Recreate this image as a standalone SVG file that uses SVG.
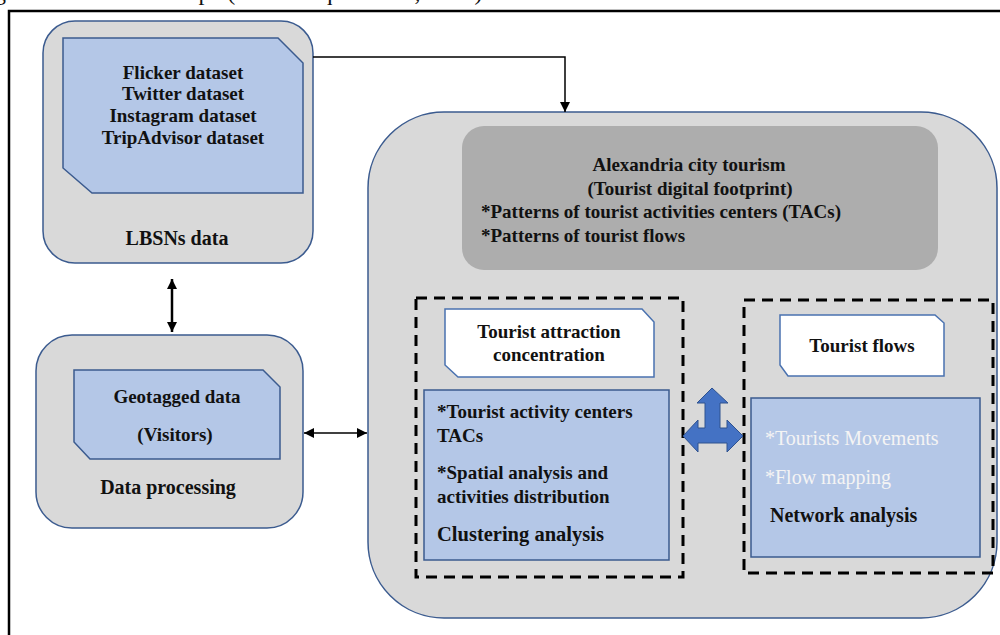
<svg xmlns="http://www.w3.org/2000/svg" width="1000" height="635" viewBox="0 0 1000 635">
  <defs>
    <style>
      .panel { fill: #d9d9d9; stroke: #3b5b8f; stroke-width: 1.5; }
      .blue { fill: #b4c7e7; stroke: #3b5b8f; stroke-width: 1.5; }
      .white { fill: #ffffff; stroke: #4a72b0; stroke-width: 1.5; }
      .dark { fill: #adadad; stroke: none; }
      .dash { fill: none; stroke: #000; stroke-width: 3; stroke-dasharray: 11 7; }
      .t { font-family: "Liberation Serif", "Times New Roman", serif; font-weight: bold; font-size: 19px; fill: #111; }
      .c { text-anchor: middle; }
      .w { font-family: "Liberation Serif", "Times New Roman", serif; font-size: 20px; fill: #f4f4f4; }
      .conn { fill: none; stroke: #000; }
    </style>
    <marker id="ah" viewBox="0 0 10 10" refX="10" refY="5" markerWidth="10" markerHeight="10" markerUnits="userSpaceOnUse" orient="auto-start-reverse">
      <path d="M0,0 L10,5 L0,10 Z" fill="#000"/>
    </marker>
    <marker id="ahs" viewBox="0 0 10 10" refX="10" refY="5" markerWidth="12" markerHeight="10" markerUnits="userSpaceOnUse" orient="auto-start-reverse">
      <path d="M0,0 L10,5 L0,10 Z" fill="#000"/>
    </marker>
  </defs>

  <rect width="1000" height="635" fill="#ffffff"/>
  <text x="-6" y="0" font-family="Liberation Serif, serif" font-size="24" fill="#111">g the tourism landscape (Hadi &amp; Iqbal et al., 2016)</text>
  <rect x="9" y="11" width="1010" height="640" fill="none" stroke="#000" stroke-width="2.5"/>

  <g id="lbsns">
    <rect class="panel" x="43" y="21" width="270" height="242" rx="32"/>
    <path class="blue" d="M63,38 H278 L303,63 V193 H92 L63,168 Z"/>
    <text class="t c" x="183" y="79">Flicker dataset</text>
    <text class="t c" x="183" y="100">Twitter dataset</text>
    <text class="t c" x="183" y="122">Instagram dataset</text>
    <text class="t c" x="183" y="144">TripAdvisor dataset</text>
    <text class="t c" x="177" y="245" style="font-size:20px">LBSNs data</text>
  </g>

  <g id="processing">
    <rect class="panel" x="36" y="335" width="267" height="193" rx="36"/>
    <path class="blue" d="M74,370 H263 L280,387 V459 H90 L74,442 Z"/>
    <text class="t c" x="177" y="403">Geotagged data</text>
    <text class="t c" x="175" y="441">(Visitors)</text>
    <text class="t c" x="168" y="494" style="font-size:20px">Data processing</text>
  </g>

  <g id="main">
    <rect class="panel" x="368" y="112" width="629" height="506" rx="76"/>
  </g>

  <g id="tourism">
    <rect class="dark" x="462" y="126" width="476" height="144" rx="22"/>
    <text class="t c" x="689" y="171">Alexandria  city tourism</text>
    <text class="t c" x="690" y="195">(Tourist digital  footprint)</text>
    <text class="t" x="481" y="218">*Patterns of tourist activities centers (TACs)</text>
    <text class="t" x="481" y="242">*Patterns of tourist flows</text>
  </g>

  <g id="attraction">
    <rect class="dash" x="416" y="298" width="267" height="279"/>
    <path class="white" d="M445,309 H642 L654,322 V377 H458 L445,365 Z"/>
    <text class="t c" x="549" y="338">Tourist attraction</text>
    <text class="t c" x="549" y="361">concentration</text>
    <rect class="blue" x="424" y="390" width="245" height="170"/>
    <text class="t" x="437" y="418">*Tourist activity centers</text>
    <text class="t" x="437" y="442">TACs</text>
    <text class="t" x="437" y="479">*Spatial analysis and</text>
    <text class="t" x="437" y="503">activities distribution</text>
    <text class="t" x="437" y="541" style="font-size:20.5px">Clustering  analysis</text>
  </g>

  <g id="flows">
    <rect class="dash" x="744" y="300" width="249" height="273"/>
    <path class="white" d="M780,315 H935 L944,323 V376 H788 L780,365 Z"/>
    <text class="t c" x="862" y="352">Tourist flows</text>
    <rect class="blue" x="751" y="398" width="229" height="159"/>
    <text class="w" x="765" y="445">*Tourists Movements</text>
    <text class="w" x="765" y="484">*Flow mapping</text>
    <text class="t" x="770" y="522" style="font-size:20px">Network analysis</text>
  </g>

  <g id="connectors">
    <polyline class="conn" points="313,57 565,57 565,112" stroke-width="1.5" marker-end="url(#ahs)"/>
    <line class="conn" x1="172" y1="279" x2="172" y2="332" stroke-width="2.5" marker-start="url(#ah)" marker-end="url(#ah)"/>
    <line class="conn" x1="304" y1="433" x2="367" y2="433" stroke-width="1.5" marker-start="url(#ahs)" marker-end="url(#ahs)"/>
    <path d="M712,388 L728,403 L720,403 L720,428 L727,428 L727,420 L743,436 L727,452 L727,443 L698,443 L698,452 L683,436 L698,420 L698,428 L705,428 L705,403 L697,403 Z" fill="#4472c4" stroke="#2f528f" stroke-width="1"/>
  </g>
</svg>
